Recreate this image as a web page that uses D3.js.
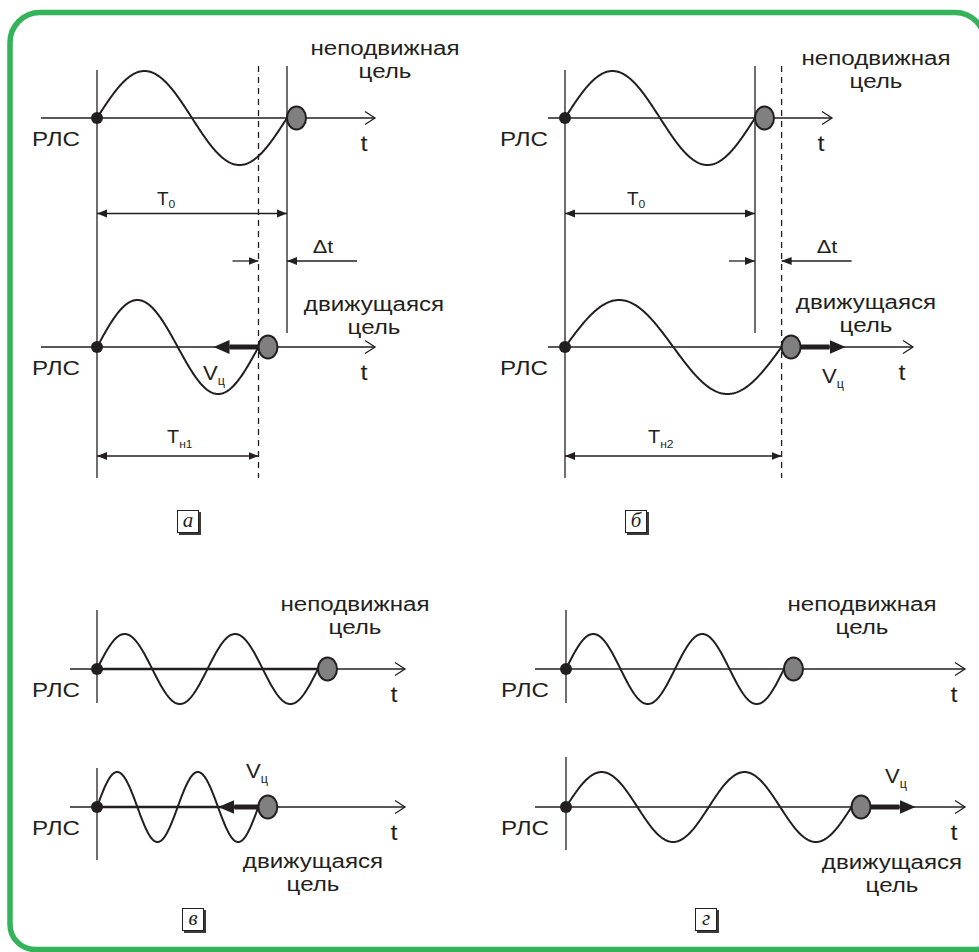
<!DOCTYPE html>
<html>
<head>
<meta charset="utf-8">
<script src="https://cdn.jsdelivr.net/npm/d3@7"></script>
<style>
  body { margin: 0; background: #fff; }
</style>
</head>
<body>
<div id="chart"></div>
<script>
// echo delays, in units of the fixed-target delay
const panelNames = ["а", "б", "в", "г"];
const fixedDelay = [1, 1, 1, 1];
const movingDelay = [0.85, 1.14, 0.73, 1.31];
const fixedCycles = [1, 1, 2, 2];
const movingCycles = [1, 1, 2, 2];

const radarText = "РЛС";
const timeText = "t";
const fixedText = ["неподвижная", "цель"];
const movingText = ["движущаяся", "цель"];
const speedText = ["V", "ц"];
const t0Text = ["T", "0"];
const tnText = [["T", "н1"], ["T", "н2"]];
const dtText = "Δt";

// page geometry for each panel
const layout = [
    { x0: 97, unit: 190, yTop: 118, yBot: 347, amp: 47, axTop: [41, 375], axBot: [41, 375],
      fixedAt: [385, 55], movingAt: [374, 311], speedAt: [203, 380], t0At: 157, tnAt: 167, dtAt: 313, box: [177, 510] },
    { x0: 565, unit: 190, yTop: 118, yBot: 347, amp: 47, axTop: [548, 832], axBot: [548, 913],
      fixedAt: [876, 65], movingAt: [866, 309], speedAt: [822, 383], t0At: 627, tnAt: 648, dtAt: 817, box: [625, 510] },
    { x0: 97, unit: 221, yTop: 669, yBot: 807, amp: 35, axTop: [70, 405], axBot: [70, 405],
      vTop: [610, 703], vBot: [768, 860],
      fixedAt: [355, 611], movingAt: [313, 868], speedAt: [246, 778], box: [182, 908] },
    { x0: 566, unit: 218, yTop: 669, yBot: 807, amp: 35, axTop: [535, 965], axBot: [535, 965],
      vTop: [610, 703], vBot: [757, 850],
      fixedAt: [862, 611], movingAt: [892, 869], speedAt: [885, 783], box: [695, 908] }
];

const ink = "#231f20";

var svg = d3.select("#chart")
    .append("svg")
    .attr("width", 979)
    .attr("height", 952)
    .style("font-family", "'Liberation Sans', Arial, sans-serif");

// green frame
svg.append("path")
    .attr("d", "M40,12.5 H955 A30,30 0 0 1 985,42.5 L1005,919.5 A30,30 0 0 1 975,949.5 H35 A25,25 0 0 1 10,924.5 V42.5 A30,30 0 0 1 40,12.5 Z")
    .attr("fill", "none")
    .attr("stroke", "#35b35a")
    .attr("stroke-width", 5.5);

var defs = svg.append("defs");

defs.append("marker")
    .attr("id", "tip")
    .attr("viewBox", "0 -5 10 10")
    .attr("refX", 10)
    .attr("refY", 0)
    .attr("markerWidth", 10)
    .attr("markerHeight", 10)
    .attr("markerUnits", "userSpaceOnUse")
    .attr("orient", "auto-start-reverse")
    .append("path")
    .attr("fill", ink)
    .attr("d", "M0,-4L10,0L0,4Z");

defs.append("marker")
    .attr("id", "open")
    .attr("viewBox", "-12 -8 14 16")
    .attr("refX", 0)
    .attr("refY", 0)
    .attr("markerWidth", 14)
    .attr("markerHeight", 16)
    .attr("markerUnits", "userSpaceOnUse")
    .attr("orient", "auto")
    .append("path")
    .attr("fill", "none")
    .attr("stroke", ink)
    .attr("stroke-width", 1.3)
    .attr("d", "M-10,-6.5L0,0L-10,6.5");

defs.append("marker")
    .attr("id", "vhead")
    .attr("viewBox", "0 -8 17 16")
    .attr("refX", 0)
    .attr("refY", 0)
    .attr("markerWidth", 17)
    .attr("markerHeight", 16)
    .attr("markerUnits", "userSpaceOnUse")
    .attr("orient", "auto")
    .append("path")
    .attr("fill", ink)
    .attr("d", "M0,-7L16,0L0,7Z");

function label(g, x, y, str, size, anchor) {
    return g.append("text")
        .attr("transform", `translate(${x},${y}) scale(1.15,1)`)
        .attr("text-anchor", anchor || "middle")
        .attr("font-size", size || 21)
        .attr("fill", ink)
        .text(str);
}

function subLabel(g, x, y, parts, size, subSize, drop) {
    let t = g.append("text")
        .attr("transform", `translate(${x},${y}) scale(1.05,1)`)
        .attr("font-size", size)
        .attr("fill", ink);
    t.append("tspan").text(parts[0]);
    t.append("tspan").attr("font-size", subSize).attr("dy", drop).text(parts[1]);
}

function vline(g, x, y1, y2, dashed) {
    g.append("line")
        .attr("x1", x).attr("x2", x)
        .attr("y1", y1).attr("y2", y2)
        .attr("stroke", ink)
        .attr("stroke-width", 1.3)
        .attr("stroke-dasharray", dashed ? "6,5" : null);
}

function dimArrow(g, xa, xb, y, both) {
    g.append("line")
        .attr("x1", xa).attr("x2", xb)
        .attr("y1", y).attr("y2", y)
        .attr("stroke", ink)
        .attr("stroke-width", 1.3)
        .attr("marker-start", both ? "url(#tip)" : null)
        .attr("marker-end", "url(#tip)");
}

function drawPanel(i) {
    let L = layout[i];
    let g = svg.append("g");
    let x = d3.scaleLinear().domain([0, 1]).range([L.x0, L.x0 + L.unit]);
    let detailed = i < 2;

    [[L.yTop, fixedDelay[i], fixedCycles[i], L.axTop, false],
     [L.yBot, movingDelay[i], movingCycles[i], L.axBot, true]].forEach(([y0, delay, cycles, ax, moving]) => {
        let y = d3.scaleLinear().domain([-1, 1]).range([y0 + L.amp, y0 - L.amp]);
        let xEnd = x(delay);

        // time axis
        g.append("line")
            .attr("x1", ax[0]).attr("x2", ax[1])
            .attr("y1", y0).attr("y2", y0)
            .attr("stroke", ink)
            .attr("stroke-width", 1.3)
            .attr("marker-end", "url(#open)");
        if (i === 2) {
            g.append("line")
                .attr("x1", x(0)).attr("x2", xEnd)
                .attr("y1", y0).attr("y2", y0)
                .attr("stroke", ink)
                .attr("stroke-width", 2.4);
        }

        // echo wave
        let pts = d3.range(0, 1.0001, 1 / 240).map(u => [u * delay, Math.sin(2 * Math.PI * cycles * u)]);
        g.append("path")
            .datum(pts)
            .attr("fill", "none")
            .attr("stroke", ink)
            .attr("stroke-width", 2)
            .attr("d", d3.line().x(d => x(d[0])).y(d => y(d[1])));

        // radar
        g.append("circle")
            .attr("cx", x(0)).attr("cy", y0).attr("r", 6)
            .attr("fill", ink);

        // target
        let cx = xEnd + 9.5;
        if (moving) {
            let dir = movingDelay[i] < fixedDelay[i] ? -1 : 1;
            let from = dir < 0 ? xEnd : cx + 9.5;
            let len = i === 2 ? 40 : 45;
            g.append("line")
                .attr("x1", from).attr("x2", from + dir * (len - 16))
                .attr("y1", y0).attr("y2", y0)
                .attr("stroke", ink)
                .attr("stroke-width", 5)
                .attr("marker-end", "url(#vhead)");
        }
        g.append("ellipse")
            .attr("cx", cx).attr("cy", y0)
            .attr("rx", 9.5).attr("ry", 11.5)
            .attr("fill", "#808080")
            .attr("stroke", ink)
            .attr("stroke-width", 2);

        label(g, x(0) - 17, y0 + 28, radarText, 21, "end");
        label(g, ax[1] - 11, y0 + 33, timeText, 22);
    });

    if (detailed) {
        let xf = x(fixedDelay[i]), xm = x(movingDelay[i]);
        vline(g, x(0), 70, 478, false);
        vline(g, xf, 66, 333, false);
        vline(g, xm, 66, 478, true);
        dimArrow(g, x(0), xf, 213.5, true);
        subLabel(g, L.t0At, 205, t0Text, 18, 11.5, 2.5);
        dimArrow(g, Math.min(xf, xm) - 26, Math.min(xf, xm), 261, false);
        dimArrow(g, Math.max(xf, xm) + 70, Math.max(xf, xm), 261, false);
        label(g, L.dtAt + 10, 253, dtText, 19);
        dimArrow(g, x(0), xm, 456, true);
        subLabel(g, L.tnAt, 443, tnText[i], 19, 11.5, 5);
    } else {
        vline(g, x(0), L.vTop[0], L.vTop[1], false);
        vline(g, x(0), L.vBot[0], L.vBot[1], false);
    }

    label(g, L.fixedAt[0], L.fixedAt[1], fixedText[0]);
    label(g, L.fixedAt[0], L.fixedAt[1] + 23, fixedText[1]);
    label(g, L.movingAt[0], L.movingAt[1], movingText[0]);
    label(g, L.movingAt[0], L.movingAt[1] + 23, movingText[1]);
    subLabel(g, L.speedAt[0], L.speedAt[1], speedText, 21, 12, 5);

    // panel letter in a framed box
    let b = g.append("g").attr("transform", `translate(${L.box[0]},${L.box[1]})`);
    b.append("rect").attr("x", 2).attr("y", 2).attr("width", 22).attr("height", 23).attr("fill", "#3a3a3a");
    b.append("rect").attr("x", 0.5).attr("y", 0.5).attr("width", 21).attr("height", 22)
        .attr("fill", "#fff").attr("stroke", ink).attr("stroke-width", 1);
    b.append("text")
        .attr("x", 11).attr("y", 17)
        .attr("text-anchor", "middle")
        .attr("font-family", "'Liberation Serif', 'DejaVu Serif', serif")
        .attr("font-style", "italic")
        .attr("font-size", 21)
        .attr("fill", ink)
        .text(panelNames[i]);
}

for (let i = 0; i < 4; i++) {
    drawPanel(i);
}
</script>
</body>
</html>
